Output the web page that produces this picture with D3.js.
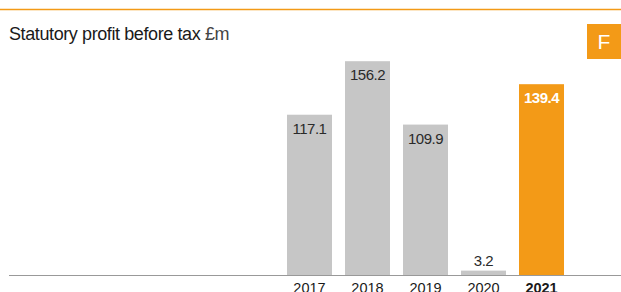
<!DOCTYPE html>
<html>
<head>
<meta charset="utf-8">
<script src="https://cdn.jsdelivr.net/npm/d3@7"></script>
<style>
	body { margin: 0; background: #fff; }
	svg { display: block; font-family: "Liberation Sans", Arial, sans-serif; }
</style>
</head>
<body>
<div id="chart"></div>
<script>
var years = ["2017", "2018", "2019", "2020", "2021"];
var profit = [117.1, 156.2, 109.9, 3.2, 139.4];
var highlight = "2021";

var W = 621, H = 292;
var orange = "#f39a17";
var grey = "#c6c6c6";

var svg = d3.select("#chart")
	.append("svg")
	.attr("width", W)
	.attr("height", H);

// top rule
svg.append("line")
	.attr("x1", 0).attr("x2", W)
	.attr("y1", 9.5).attr("y2", 9.5)
	.attr("stroke", orange)
	.attr("stroke-width", 1.5);

// title
var title = svg.append("text")
	.attr("x", 9)
	.attr("y", 40)
	.style("font-size", "18px")
	.style("letter-spacing", "-0.4px")
	.attr("fill", "#1a1a1a");
title.append("tspan").text("Statutory profit before tax ");
title.append("tspan").attr("fill", "#444").text("£m");

// F badge
svg.append("rect")
	.attr("x", 587).attr("y", 24)
	.attr("width", 40).attr("height", 35)
	.attr("fill", orange);
svg.append("text")
	.attr("x", 604).attr("y", 49)
	.attr("text-anchor", "middle")
	.attr("fill", "#fff")
	.style("font-size", "21px")
	.text("F");

var x = d3.scaleBand()
	.domain(years)
	.range([274, 577])
	.paddingInner(0.224)
	.paddingOuter(0.224);

var y = d3.scaleLinear()
	.domain([0, 160])
	.range([275, 56]);

var data = years.map(function(d, i) { return {year: d, value: profit[i]}; });

svg.selectAll(".bar")
	.data(data)
	.enter().append("rect")
	.attr("class", "bar")
	.attr("x", function(d) { return x(d.year); })
	.attr("y", function(d) { return y(d.value); })
	.attr("width", x.bandwidth())
	.attr("height", function(d) { return y(0) - y(d.value); })
	.attr("fill", function(d) { return d.year == highlight ? orange : grey; });

// value labels
svg.selectAll(".val")
	.data(data)
	.enter().append("text")
	.attr("class", "val")
	.attr("x", function(d) { return x(d.year) + x.bandwidth() / 2; })
	.attr("y", function(d) {
		var top = y(d.value);
		return (y(0) - top) < 25 ? top - 5 : top + 19;
	})
	.attr("text-anchor", "middle")
	.style("font-size", "15px")
	.style("letter-spacing", "-0.5px")
	.style("font-weight", function(d) { return d.year == highlight ? "bold" : "normal"; })
	.attr("fill", function(d) { return d.year == highlight ? "#fff" : "#2a2a2a"; })
	.text(function(d) { return d3.format(".1f")(d.value); });

// baseline
svg.append("line")
	.attr("x1", 9).attr("x2", W)
	.attr("y1", y(0) + 0.5).attr("y2", y(0) + 0.5)
	.attr("stroke", "#999")
	.attr("stroke-width", 1);

// year labels
var xAxis = d3.axisBottom(x).tickSize(0).tickPadding(0);
var ax = svg.append("g")
	.attr("transform", "translate(0," + (y(0) + 1) + ")")
	.call(xAxis);
ax.select(".domain").remove();
ax.selectAll("text")
	.attr("dy", null)
	.attr("y", 17)
	.attr("fill", "#1a1a1a")
	.style("font-family", "\"Liberation Sans\", Arial, sans-serif")
	.style("font-size", "14.5px")
	.style("font-weight", function(d) { return d == highlight ? "bold" : "normal"; });
</script>
</body>
</html>
